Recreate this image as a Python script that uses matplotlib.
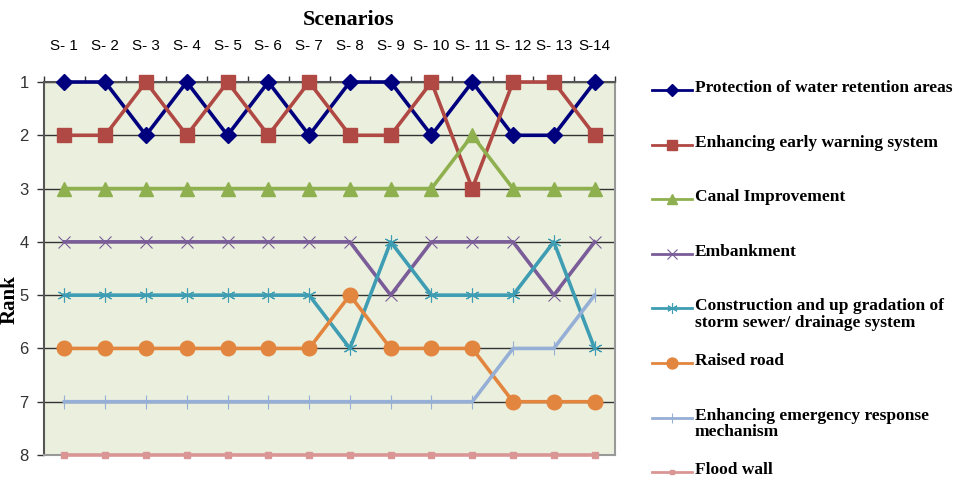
import numpy as np
import matplotlib
matplotlib.use('Agg')
import matplotlib.pyplot as plt
from matplotlib.lines import Line2D

scenarios = [f'S- {i}' if i < 14 else 'S-14' for i in range(1, 15)]
seriesNames = [
    'Protection of water retention areas',
    'Enhancing early warning system',
    'Canal Improvement',
    'Embankment',
    'Construction and up gradation of\nstorm sewer/ drainage system',
    'Raised road',
    'Enhancing emergency response\nmechanism',
    'Flood wall',
]
protection = [1, 1, 2, 1, 2, 1, 2, 1, 1, 2, 1, 2, 2, 1]
earlyWarning = [2, 2, 1, 2, 1, 2, 1, 2, 2, 1, 3, 1, 1, 2]
canal = [3, 3, 3, 3, 3, 3, 3, 3, 3, 3, 2, 3, 3, 3]
embankment = [4, 4, 4, 4, 4, 4, 4, 4, 5, 4, 4, 4, 5, 4]
drainage = [5, 5, 5, 5, 5, 5, 5, 6, 4, 5, 5, 5, 4, 6]
raisedRoad = [6, 6, 6, 6, 6, 6, 6, 5, 6, 6, 6, 7, 7, 7]
emergency = [7, 7, 7, 7, 7, 7, 7, 7, 7, 7, 7, 6, 6, 5]
floodWall = [8] * 14
rankTicks = [1, 2, 3, 4, 5, 6, 7, 8]


def main():
    allData = [protection, earlyWarning, canal, embankment,
               drainage, raisedRoad, emergency, floodWall]
    colors = ['#00007f', '#b04844', '#8fb04f', '#7a5c98',
              '#3f9db3', '#e2853e', '#96afd6', '#d99694']
    markers = ['D', 's', '^', 'x', (6, 2, 0), 'o', '|', 's']
    msizes = [8, 9.5, 10, 9, 10, 10.5, 10, 4]
    mews = [1, 1, 1, 0.8, 0.8, 1, 0.8, 1]

    fig = plt.figure(figsize=(9.55, 4.79), dpi=100)
    ax = fig.add_axes([44/955, 1-455/479, (615-44)/955, (455-82)/479])
    ax.set_facecolor('#ebf0de')

    x = np.arange(1, len(scenarios)+1)
    for vals, c, m, ms, mew in zip(allData, colors, markers, msizes, mews):
        ax.plot(x, vals, color=c, lw=2.6, marker=m, ms=ms,
                mec=c, mfc=c, mew=mew, clip_on=False, zorder=3)

    ax.set_xlim(0.5, len(scenarios)+0.5)
    ax.set_ylim(8, 1)
    ax.set_yticks(rankTicks)
    ax.set_yticklabels([str(r) for r in rankTicks], fontfamily='Liberation Sans',
                       fontsize=12, color='#333333')
    ax.yaxis.grid(True, color='#333333', lw=1)
    ax.set_axisbelow(True)
    ax.tick_params(axis='y', length=5, width=1, color='#333333', pad=6)

    ax.xaxis.tick_top()
    ax.set_xticks(x)
    ax.set_xticklabels(scenarios, fontfamily='Liberation Sans', fontsize=11)
    ax.set_xticks(np.arange(0.5, len(scenarios)+1), minor=True)
    ax.tick_params(axis='x', which='major', length=0, pad=21)
    ax.tick_params(axis='x', which='minor', length=4, width=1, color='#333333')

    for side in ['left', 'top']:
        ax.spines[side].set_color('#555555')
        ax.spines[side].set_linewidth(1.5)
    for side in ['right', 'bottom']:
        ax.spines[side].set_color('#999999')
        ax.spines[side].set_linewidth(1.5)

    fig.text(349/955, 1-20/479, 'Scenarios', ha='center', va='center',
             fontfamily='Liberation Serif', fontweight='bold', fontsize=16)
    fig.text(10/955, 1-300/479, 'Rank', ha='center', va='center', rotation=90,
             fontfamily='Liberation Serif', fontweight='bold', fontsize=15)

    # ---- legend drawn by hand so rows stay evenly spaced
    for i, (name, c, m, ms, mew) in enumerate(zip(seriesNames, colors, markers, msizes, mews)):
        yPix = 90 + i * 54.6
        yFig = 1 - yPix/479
        fig.add_artist(Line2D([652/955, 692/955], [yFig, yFig], color=c, lw=2,
                              transform=fig.transFigure))
        fig.add_artist(Line2D([672/955], [yFig], color=c, marker=m, ms=ms*0.75,
                              mec=c, mfc=c, mew=mew, transform=fig.transFigure))
        fig.text(695/955, yFig + 10/479, name, ha='left', va='top',
                 fontfamily='Liberation Serif', fontweight='bold', fontsize=12.5,
                 linespacing=1.05, transform=fig.transFigure)

    fig.savefig('out.png', dpi=100)


if __name__ == '__main__':
    main()
